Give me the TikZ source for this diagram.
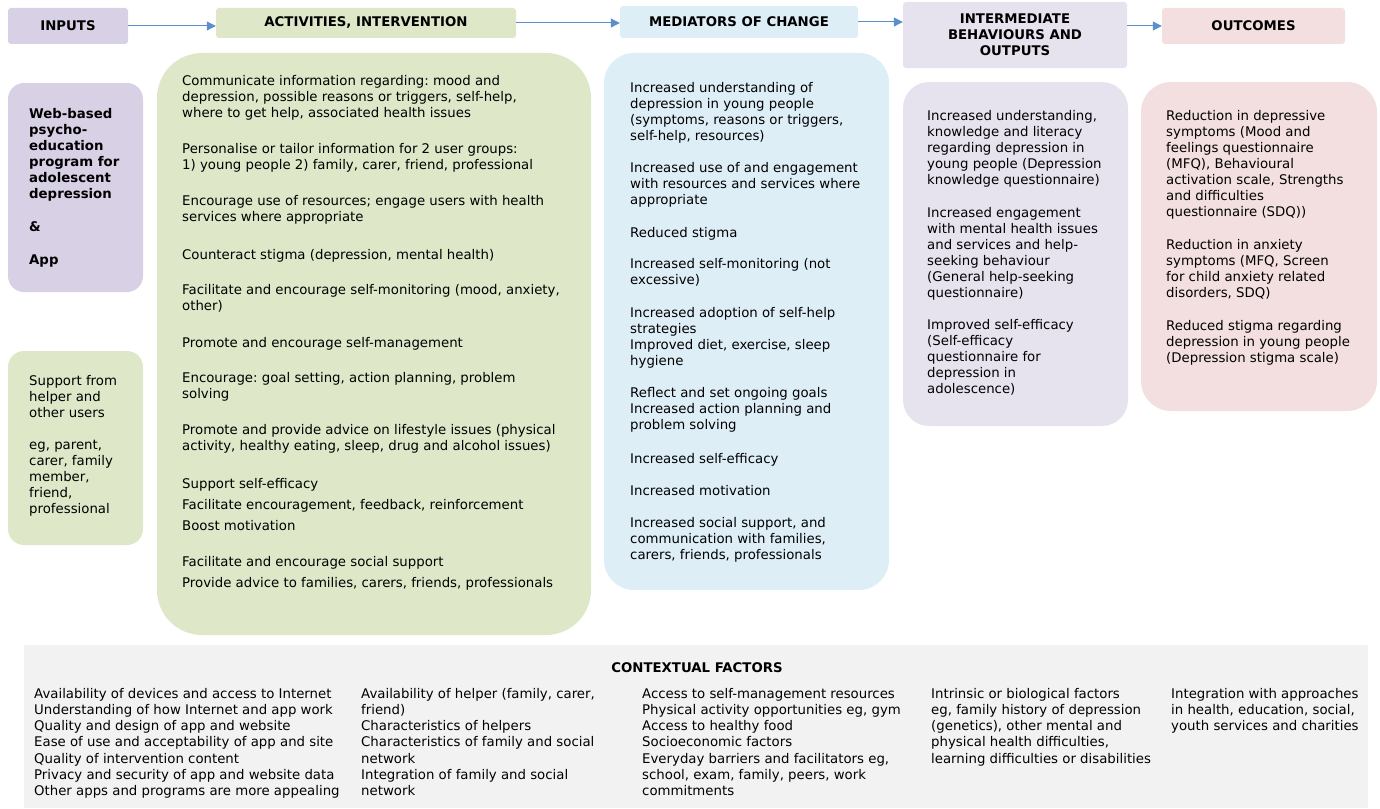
\documentclass[tikz,border=0pt]{standalone}
\usepackage{fontspec}
\setmainfont{DejaVu Sans}
\usetikzlibrary{arrows.meta}
\frenchspacing
\definecolor{inpurple}{HTML}{D8D0E4}
\definecolor{actgreen}{HTML}{DEE7C8}
\definecolor{medblue}{HTML}{DDEEF7}
\definecolor{intlilac}{HTML}{E6E3EF}
\definecolor{outpink}{HTML}{F3DFDF}
\definecolor{ctxgray}{HTML}{F2F2F2}
\definecolor{flowblue}{HTML}{5B8FCB}
\begin{document}
\begin{tikzpicture}[x=1pt,y=-1pt,
	head/.style={font=\fontsize{13.3}{16}\selectfont\bfseries,align=center,rounded corners=3pt,inner sep=0pt},
	item/.style={anchor=north west,inner sep=0pt,align=left,font=\fontsize{13.3}{16}\selectfont,execute at begin node=\strut},
	flow/.style={draw=flowblue,line width=1pt,-{Triangle[length=9pt,width=9pt]}}]
	\useasboundingbox (0,0) rectangle (1380,808);
	\node[head,fill=inpurple,minimum width=120pt,minimum height=36pt] (inputs) at (68,26) {INPUTS};
	\node[head,fill=actgreen,minimum width=300pt,minimum height=30pt] (activities) at (366,23) {ACTIVITIES, INTERVENTION};
	\node[head,fill=medblue,minimum width=238pt,minimum height=32pt] (mediators) at (739,22) {MEDIATORS OF CHANGE};
	\node[head,fill=intlilac,minimum width=224pt,minimum height=66pt] (intermediate) at (1015,35) {INTERMEDIATE\\BEHAVIOURS AND\\OUTPUTS};
	\node[head,fill=outpink,minimum width=183pt,minimum height=36pt] (outcomes) at (1253.5,26) {OUTCOMES};
	\draw[flow] (inputs) -- (activities.west |- inputs);
	\draw[flow] (activities) -- (mediators.west |- activities);
	\draw[flow] (mediators) -- (intermediate.west |- mediators);
	\draw[flow] (intermediate.east |- outcomes) -- (outcomes);
	\fill[inpurple,rounded corners=16pt] (8,83) rectangle (143,292);
	\fill[actgreen,rounded corners=16pt] (8,351) rectangle (143,545);
	\fill[actgreen,rounded corners=45pt] (157,53) rectangle (591,635);
	\fill[medblue,rounded corners=30pt] (604,53) rectangle (889,590);
	\fill[intlilac,rounded corners=26pt] (903,82) rectangle (1128,426);
	\fill[outpink,rounded corners=30pt] (1141,82) rectangle (1377,411);
	\fill[ctxgray] (24,645) rectangle (1368,808);
	\foreach \y/\t [count=\i] in {113/{Web-based\\psycho-\\education\\program for\\adolescent\\depression},225/{\&},258/{App}}
		\node[item,font=\fontsize{13.3}{16}\selectfont\bfseries] (web\i) at (29,\y-5) {\t};
	\foreach \y/\t [count=\i] in {380/{Support from\\helper and\\other users},445/{eg, parent,\\carer, family\\member,\\friend,\\professional}}
		\node[item] (helper\i) at (29,\y-5) {\t};
	\foreach \y/\t [count=\i] in {
		80/{Communicate information regarding: mood and\\depression, possible reasons or triggers, self-help,\\where to get help, associated health issues},
		148/{Personalise or tailor information for 2 user groups:\\1) young people 2) family, carer, friend, professional},
		200/{Encourage use of resources; engage users with health\\services where appropriate},
		253/{Counteract stigma (depression, mental health)},
		289/{Facilitate and encourage self-monitoring (mood, anxiety,\\other)},
		341/{Promote and encourage self-management},
		377/{Encourage: goal setting, action planning, problem\\solving},
		429/{Promote and provide advice on lifestyle issues (physical\\activity, healthy eating, sleep, drug and alcohol issues)},
		482/{Support self-efficacy},
		503/{Facilitate encouragement, feedback, reinforcement},
		524/{Boost motivation},
		560/{Facilitate and encourage social support},
		581/{Provide advice to families, carers, friends, professionals}}
		\node[item] (act\i) at (182,\y-5) {\t};
	\foreach \y/\t [count=\i] in {
		87/{Increased understanding of\\depression in young people\\(symptoms, reasons or triggers,\\self-help, resources)},
		167/{Increased use of and engagement\\with resources and services where\\appropriate},
		231/{Reduced stigma},
		263/{Increased self-monitoring (not\\excessive)},
		312/{Increased adoption of self-help\\strategies\\Improved diet, exercise, sleep\\hygiene},
		392/{Reflect and set ongoing goals\\Increased action planning and\\problem solving},
		457/{Increased self-efficacy},
		489/{Increased motivation},
		522/{Increased social support, and\\communication with families,\\carers, friends, professionals}}
		\node[item] (med\i) at (630,\y-5) {\t};
	\foreach \y/\t [count=\i] in {
		115/{Increased understanding,\\knowledge and literacy\\regarding depression in\\young people (Depression\\knowledge questionnaire)},
		212/{Increased engagement\\with mental health issues\\and services and help-\\seeking behaviour\\(General help-seeking\\questionnaire)},
		324/{Improved self-efficacy\\(Self-efficacy\\questionnaire for\\depression in\\adolescence)}}
		\node[item] (int\i) at (927,\y-5) {\t};
	\foreach \y/\t [count=\i] in {
		115/{Reduction in depressive\\symptoms (Mood and\\feelings questionnaire\\(MFQ), Behavioural\\activation scale, Strengths\\and difficulties\\questionnaire (SDQ))},
		244/{Reduction in anxiety\\symptoms (MFQ, Screen\\for child anxiety related\\disorders, SDQ)},
		325/{Reduced stigma regarding\\depression in young people\\(Depression stigma scale)}}
		\node[item] (out\i) at (1166,\y-5) {\t};
	\node[font=\fontsize{13.3}{16}\selectfont\bfseries,inner sep=0pt] (ctxtitle) at (697,668) {CONTEXTUAL FACTORS};
	\foreach \x/\t [count=\i] in {
		34/{Availability of devices and access to Internet\\Understanding of how Internet and app work\\Quality and design of app and website\\Ease of use and acceptability of app and site\\Quality of intervention content\\Privacy and security of app and website data\\Other apps and programs are more appealing},
		361/{Availability of helper (family, carer,\\friend)\\Characteristics of helpers\\Characteristics of family and social\\network\\Integration of family and social\\network},
		642/{Access to self-management resources\\Physical activity opportunities eg, gym\\Access to healthy food\\Socioeconomic factors\\Everyday barriers and facilitators eg,\\school, exam, family, peers, work\\commitments},
		931/{Intrinsic or biological factors\\eg, family history of depression\\(genetics), other mental and\\physical health difficulties,\\learning difficulties or disabilities},
		1171/{Integration with approaches\\in health, education, social,\\youth services and charities}}
		\node[item,font=\fontsize{13.3}{16.2}\selectfont] (ctx\i) at (\x,688) {\t};
\end{tikzpicture}
\end{document}
